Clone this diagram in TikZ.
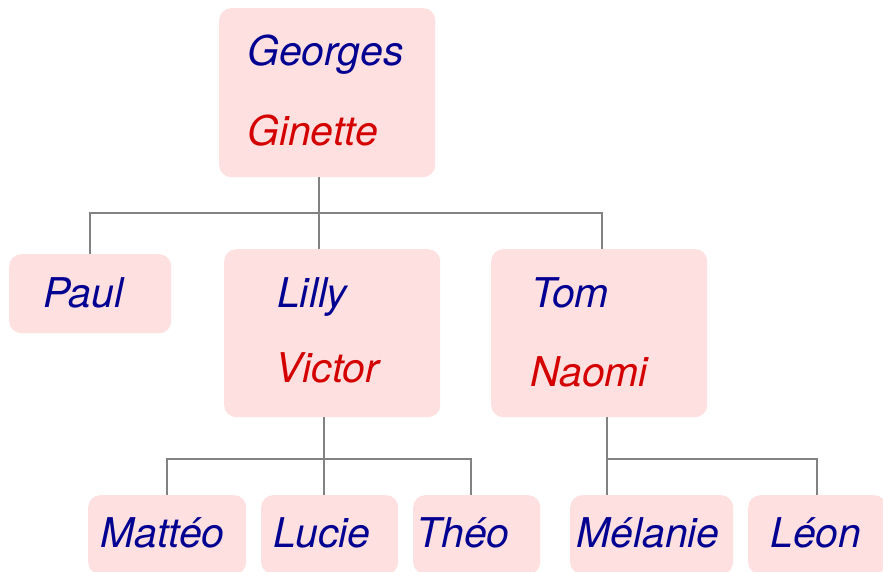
\documentclass[tikz,border=0pt]{standalone}
\usepackage{fontspec}
\setmainfont{TeX Gyre Heros}
\definecolor{boxpink}{RGB}{255,224,224}
\definecolor{navy}{RGB}{0,0,145}
\definecolor{darkred}{RGB}{212,0,0}
\definecolor{linegray}{RGB}{130,130,130}
\begin{document}
\begin{tikzpicture}[x=1pt,y=-1pt,
  box/.style={rectangle, fill=boxpink, rounded corners=12pt, anchor=north west, inner sep=0pt},
  nm/.style={anchor=base west, inner sep=0pt, font=\fontsize{41}{49}\selectfont\itshape},
  male/.style={nm, text=navy},
  female/.style={nm, text=darkred},
  conn/.style={draw=linegray, line width=1.6pt}]
\useasboundingbox (0,0) rectangle (883,572);
% boxes
\node[box, minimum width=216pt, minimum height=169pt] (g) at (219,8) {};
\node[box, minimum width=162pt, minimum height=79pt] (paul) at (9,254) {};
\node[box, minimum width=216pt, minimum height=168pt] (lilly) at (224,249) {};
\node[box, minimum width=216pt, minimum height=168pt] (tom) at (491,249) {};
\node[box, minimum width=158pt, minimum height=79pt] (mat) at (88,495) {};
\node[box, minimum width=137pt, minimum height=79pt] (lucie) at (261,495) {};
\node[box, minimum width=127pt, minimum height=79pt] (theo) at (413,495) {};
\node[box, minimum width=163pt, minimum height=79pt] (mel) at (570,495) {};
\node[box, minimum width=138pt, minimum height=79pt] (leon) at (748,495) {};
% names
\node[male] (tg) at (247,66) {Georges};
\node[female] (tgi) at (247,146) {Ginette};
\node[male] (tp) at (43,307) {Paul};
\node[male] (tl) at (277,307) {Lilly};
\node[female] (tv) at (275,382) {Victor};
\node[male] (tt) at (531,307) {Tom};
\node[female] (tn) at (530,386) {Naomi};
\node[male] (tm) at (100,547) {Mattéo};
\node[male] (tlu) at (273,547) {Lucie};
\node[male] (tth) at (416,547) {Théo};
\node[male] (tme) at (576,547) {Mélanie};
\node[male] (tle) at (770,547) {Léon};
% connectors
\coordinate (b1) at (319,213);
\draw[conn] (b1 |- g.south) -- (b1 |- lilly.north);
\draw[conn] (paul.north) |- (b1) -| ([xshift=3pt]tom.north);
\coordinate (b2) at (324,459);
\draw[conn] (b2 |- lilly.south) -- (b2 |- lucie.north);
\draw[conn] (mat.north) |- (b2) -| ([xshift=-5.5pt]theo.north);
\coordinate (b3) at (607,459);
\draw[conn] (b3 |- tom.south) -- (b3 |- mel.north);
\draw[conn] (b3) -| (leon.north);
\end{tikzpicture}
\end{document}
